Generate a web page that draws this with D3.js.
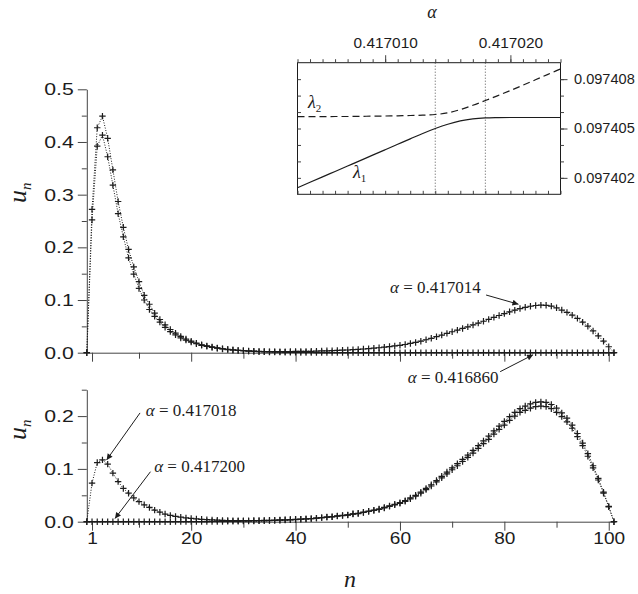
<!DOCTYPE html>
<html lang="en">
<head>
<meta charset="utf-8">
<script src="https://d3js.org/d3.v7.min.js"></script>
<style type="text/css">

body {
	margin: 0;
	background-color: #ffffff;
}

svg {
	display: block;
}

.tick text {
	font-family: "Liberation Sans", Arial, sans-serif;
}

/* Serif italic for the math labels */
.math {
	font-family: "Liberation Serif", "Times New Roman", serif;
	fill: #1c1c1c;
}

</style>
</head>

<body>
<script type="text/javascript">

// ---- data ----

// u_n for n = 0 .. 101 (array index is n)
var uA = [ // alpha = 0.416860
	0, 0.272, 0.427, 0.449, 0.407, 0.347, 0.287, 0.238, 0.196, 0.163,
	0.135, 0.109, 0.092, 0.075, 0.063, 0.053, 0.044, 0.037, 0.031, 0.026,
	0.022, 0.018, 0.015, 0.013, 0.011, 0.009, 0.0075, 0.0063, 0.0052, 0.0044,
	0.0037, 0.0030, 0.0025, 0.0020, 0.0017, 0.0014, 0.0012, 0.0010, 0.0008, 0.0007,
	0.0006, 0.0005, 0.0004, 0.0004, 0.0003, 0.0003, 0.0002, 0.0002, 0.0002, 0.0001,
	0.0001, 0.0001, 0, 0, 0, 0, 0, 0, 0, 0,
	0, 0, 0, 0, 0, 0, 0, 0, 0, 0,
	0, 0, 0, 0, 0, 0, 0, 0, 0, 0,
	0, 0, 0, 0, 0, 0, 0, 0, 0, 0,
	0, 0, 0, 0, 0, 0, 0, 0, 0, 0,
	0, 0
];

var uB = [ // alpha = 0.417014
	0, 0.252, 0.392, 0.413, 0.372, 0.318, 0.264, 0.220, 0.180, 0.149,
	0.122, 0.100, 0.082, 0.069, 0.058, 0.048, 0.040, 0.034, 0.028, 0.024,
	0.020, 0.017, 0.014, 0.012, 0.010, 0.0085, 0.0071, 0.0060, 0.0051, 0.0043,
	0.0038, 0.0033, 0.0028, 0.0024, 0.0023, 0.0021, 0.0021, 0.0021, 0.0021, 0.0022,
	0.0024, 0.0025, 0.0026, 0.0027, 0.0030, 0.0033, 0.0036, 0.0038, 0.0043, 0.0047,
	0.0051, 0.0059, 0.0062, 0.0070, 0.0078, 0.0086, 0.0094, 0.0105, 0.0117, 0.0129,
	0.0140, 0.0156, 0.0176, 0.0195, 0.0218, 0.0246, 0.0273, 0.0304, 0.0335, 0.0367,
	0.0398, 0.0429, 0.0460, 0.0491, 0.0527, 0.0562, 0.0597, 0.0632, 0.0671, 0.0706,
	0.0741, 0.0776, 0.0807, 0.0838, 0.0862, 0.0882, 0.0896, 0.0903, 0.0900, 0.0884,
	0.0852, 0.0810, 0.0766, 0.0714, 0.0651, 0.0581, 0.0503, 0.0413, 0.0320, 0.0218,
	0.0113, 0
];

var uC = [ // alpha = 0.417018
	0, 0.073, 0.112, 0.117, 0.109, 0.092, 0.076, 0.063, 0.054, 0.045,
	0.038, 0.032, 0.027, 0.022, 0.018, 0.0145, 0.012, 0.0100, 0.0085, 0.0072,
	0.0062, 0.0053, 0.0045, 0.0039, 0.0034, 0.0030, 0.0026, 0.0023, 0.0021, 0.0020,
	0.0020, 0.0021, 0.0022, 0.0023, 0.0025, 0.0027, 0.0030, 0.0033, 0.0037, 0.0041,
	0.0045, 0.0049, 0.0054, 0.0059, 0.0068, 0.0077, 0.0087, 0.0092, 0.0106, 0.0116,
	0.0125, 0.0145, 0.0154, 0.0174, 0.0193, 0.0212, 0.0232, 0.0260, 0.0290, 0.0318,
	0.0347, 0.0386, 0.0434, 0.0483, 0.0540, 0.0608, 0.0676, 0.0753, 0.0830, 0.0907,
	0.0984, 0.106, 0.114, 0.122, 0.130, 0.139, 0.148, 0.156, 0.166, 0.175,
	0.183, 0.192, 0.200, 0.207, 0.211, 0.215, 0.218, 0.219, 0.218, 0.214,
	0.207, 0.199, 0.189, 0.177, 0.161, 0.144, 0.124, 0.102, 0.079, 0.054,
	0.028, 0
];

var uD = [ // alpha = 0.417200
	0, 0, 0, 0, 0, 0, 0, 0, 0, 0,
	0, 0, 0, 0, 0, 0, 0, 0.0001, 0.0001, 0.0001,
	0.0002, 0.0002, 0.0003, 0.0003, 0.0004, 0.0005, 0.0005, 0.0006, 0.0007, 0.0008,
	0.0010, 0.0011, 0.0013, 0.0015, 0.0017, 0.0020, 0.0023, 0.0027, 0.0031, 0.0036,
	0.0041, 0.0046, 0.0051, 0.0058, 0.0068, 0.0078, 0.0088, 0.0095, 0.0110, 0.0120,
	0.013, 0.015, 0.016, 0.018, 0.020, 0.022, 0.024, 0.027, 0.030, 0.033,
	0.036, 0.040, 0.045, 0.050, 0.056, 0.063, 0.070, 0.078, 0.086, 0.094,
	0.102, 0.110, 0.118, 0.126, 0.135, 0.144, 0.153, 0.162, 0.172, 0.181,
	0.190, 0.199, 0.207, 0.214, 0.219, 0.223, 0.226, 0.227, 0.226, 0.222,
	0.215, 0.206, 0.196, 0.183, 0.167, 0.149, 0.129, 0.106, 0.082, 0.056,
	0.029, 0
];

// inset: eigenvalues against alpha
var alpha = [
	0.417003, 0.417004, 0.417005, 0.417006, 0.417007, 0.417008, 0.417009, 0.417010,
	0.417011, 0.417012, 0.417013, 0.417014, 0.417015, 0.417016, 0.417017, 0.417018,
	0.417019, 0.417020, 0.417021, 0.417022, 0.417023, 0.417024
];
var lambda1 = [
	0.09740140, 0.09740173, 0.09740206, 0.09740239, 0.09740272, 0.09740305, 0.09740338, 0.09740371,
	0.09740404, 0.09740437, 0.09740470, 0.09740500, 0.09740526, 0.09740546, 0.09740558, 0.09740564,
	0.09740566, 0.09740567, 0.09740567, 0.09740567, 0.09740567, 0.09740567
];
var lambda2 = [
	0.09740572, 0.09740572, 0.09740572, 0.09740573, 0.09740573, 0.09740574, 0.09740575, 0.09740576,
	0.09740577, 0.09740579, 0.09740581, 0.09740585, 0.09740595, 0.09740615, 0.09740641, 0.09740670,
	0.09740700, 0.09740731, 0.09740763, 0.09740796, 0.09740829, 0.09740862
];
var markAlpha = [0.417014, 0.417018];

// tick values
var xMajor = [1, 20, 40, 60, 80, 100];
var xMinor = [10, 30, 50, 70, 90];
var yTopMajor = [0, 0.1, 0.2, 0.3, 0.4, 0.5];
var yTopMinor = [0.05, 0.15, 0.25, 0.35, 0.45];
var yBotMajor = [0, 0.1, 0.2];
var yBotMinor = [0.05, 0.15, 0.25];
var alphaMajor = [0.417010, 0.417020];
var lambdaTicks = [0.097402, 0.097403, 0.097404, 0.097405, 0.097406, 0.097407, 0.097408];
var lambdaMajor = [0.097402, 0.097405, 0.097408];

// annotations: label text, label start (n, u), arrow tail and head (n, u)
var notes = [
	{ panel: "top", label: "0.417014", n: 58.1, u: 0.113, n1: 76.5, u1: 0.1095, n2: 82.7, u2: 0.092 },
	{ panel: "top", label: "0.416860", n: 61.5, u: -0.0575, n1: 79.2, u1: -0.036, n2: 85.5, u2: -0.004 },
	{ panel: "bot", label: "0.417018", n: 11.3, u: 0.200, n1: 10.2, u1: 0.206, n2: 3.8, u2: 0.117 },
	{ panel: "bot", label: "0.417200", n: 12.9, u: 0.094, n1: 12.2, u1: 0.0947, n2: 5.4, u2: 0.006 }
];

// ---- drawing ----

var width = 638;
var height = 594;
var ink = "#1c1c1c";
var axisInk = "#444";

var svg = d3.select("body")
	.append("svg")
	.attr("width", width)
	.attr("height", height);

svg.append("defs").append("marker")
	.attr("id", "head")
	.attr("viewBox", "0 0 10 10")
	.attr("refX", 10)
	.attr("refY", 5)
	.attr("markerWidth", 10)
	.attr("markerHeight", 6)
	.attr("markerUnits", "userSpaceOnUse")
	.attr("orient", "auto")
	.append("path")
	.attr("d", "M0,0L10,5L0,10z")
	.attr("fill", ink);

var x = d3.scaleLinear().domain([0, 101.2]).range([86.8, 615]);
var yTop = d3.scaleLinear().domain([0, 0.5]).range([352.7, 89.3]);
var yBot = d3.scaleLinear().domain([0, 0.25]).range([521.7, 389.7]);

// the original glyphs are a bit wider than normal, stretch text horizontally
function widen(sel, k) {
	sel.each(function() {
		var w = this.getComputedTextLength();
		d3.select(this).attr("textLength", w * k).attr("lengthAdjust", "spacingAndGlyphs");
	});
}

function addAxis(gen, pos, size, keepDomain) {
	var g = svg.append("g").attr("transform", pos).call(gen);
	g.attr("font-family", null).attr("font-size", null);
	g.selectAll("line").attr("stroke", axisInk);
	if (keepDomain) g.select(".domain").attr("stroke", axisInk);
	else g.select(".domain").remove();
	g.selectAll("text").attr("fill", ink).attr("font-size", size);
	return g;
}

function drawSeries(yScale, values) {
	var pts = values.map(function(v, i) { return { n: i, u: v }; });
	var line = d3.line()
		.x(function(d) { return x(d.n); })
		.y(function(d) { return yScale(d.u); });

	svg.append("path")
		.attr("d", line(pts))
		.attr("fill", "none")
		.attr("stroke", ink)
		.attr("stroke-width", 1)
		.attr("stroke-dasharray", "1,1.6");

	svg.append("g").selectAll("path")
		.data(pts)
		.enter()
		.append("path")
		.attr("transform", function(d) { return "translate(" + x(d.n) + "," + yScale(d.u) + ")"; })
		.attr("d", "M-3.2,0H3.2M0,-3.2V3.2")
		.attr("stroke", ink)
		.attr("stroke-width", 1.2);
}

// top panel
addAxis(d3.axisLeft(yTop).tickValues(yTopMinor).tickSize(5).tickFormat(""), "translate(" + x(0) + ",0)", 17, false);
var gl = addAxis(d3.axisLeft(yTop).tickValues(yTopMajor).tickSize(9).tickSizeOuter(0).tickPadding(4)
	.tickFormat(d3.format(".1f")), "translate(" + x(0) + ",0)", 17, true);
widen(gl.selectAll("text"), 1.25);
addAxis(d3.axisBottom(x).tickValues(xMinor).tickSize(6).tickFormat(""), "translate(0," + yTop(0) + ")", 17, false);
addAxis(d3.axisBottom(x).tickValues(xMajor).tickSize(9).tickSizeOuter(0).tickFormat(""), "translate(0," + yTop(0) + ")", 17, true);

drawSeries(yTop, uA);
drawSeries(yTop, uB);

// bottom panel
addAxis(d3.axisLeft(yBot).tickValues(yBotMinor).tickSize(5).tickFormat(""), "translate(" + x(0) + ",0)", 17, false);
var gl2 = addAxis(d3.axisLeft(yBot).tickValues(yBotMajor).tickSize(9).tickSizeOuter(0).tickPadding(4)
	.tickFormat(d3.format(".1f")), "translate(" + x(0) + ",0)", 17, true);
widen(gl2.selectAll("text"), 1.25);
addAxis(d3.axisBottom(x).tickValues(xMinor).tickSize(6).tickFormat(""), "translate(0," + yBot(0) + ")", 17, false);
var gb = addAxis(d3.axisBottom(x).tickValues(xMajor).tickSize(9).tickSizeOuter(0).tickPadding(1),
	"translate(0," + yBot(0) + ")", 17, true);
widen(gb.selectAll("text"), 1.12);

drawSeries(yBot, uD);
drawSeries(yBot, uC);

// axis titles
[{ y: 203 }, { y: 440 }].forEach(function(p) {
	var t = svg.append("text")
		.attr("class", "math")
		.attr("transform", "translate(26," + p.y + ") rotate(-90)")
		.attr("font-size", 26)
		.attr("font-style", "italic");
	t.append("tspan").text("u");
	t.append("tspan").attr("font-size", 15).attr("dy", 5).text("n");
});

svg.append("text")
	.attr("class", "math")
	.attr("x", 350)
	.attr("y", 587)
	.attr("text-anchor", "middle")
	.attr("font-size", 24)
	.attr("font-style", "italic")
	.text("n");

// alpha annotations with arrows
notes.forEach(function(d) {
	var yS = d.panel === "top" ? yTop : yBot;
	var t = svg.append("text")
		.attr("class", "math")
		.attr("x", x(d.n))
		.attr("y", yS(d.u))
		.attr("font-size", 17);
	t.append("tspan").attr("font-style", "italic").text("\u03b1");
	t.append("tspan").text(" = " + d.label);

	svg.append("line")
		.attr("x1", x(d.n1))
		.attr("y1", yS(d.u1))
		.attr("x2", x(d.n2))
		.attr("y2", yS(d.u2))
		.attr("stroke", ink)
		.attr("stroke-width", 1)
		.attr("marker-end", "url(#head)");
});

// ---- inset ----
var ix = d3.scaleLinear().domain([0.417003, 0.417024]).range([297.5, 560.5]);
var iy = d3.scaleLinear().domain([0.097401, 0.097409]).range([194.3, 62.7]);

svg.append("rect")
	.attr("x", ix(0.417003))
	.attr("y", iy(0.097409))
	.attr("width", ix(0.417024) - ix(0.417003))
	.attr("height", iy(0.097401) - iy(0.097409))
	.attr("fill", "#fff");

svg.append("g").selectAll("line")
	.data(markAlpha)
	.enter()
	.append("line")
	.attr("x1", function(d) { return ix(d); })
	.attr("x2", function(d) { return ix(d); })
	.attr("y1", iy(0.097409))
	.attr("y2", iy(0.097401))
	.attr("stroke", "#555")
	.attr("stroke-width", 1)
	.attr("stroke-dasharray", "1,2");

var lam1 = d3.line()
	.x(function(d, i) { return ix(alpha[i]); })
	.y(function(d) { return iy(d); })
	.curve(d3.curveMonotoneX);

svg.append("path")
	.attr("d", lam1(lambda1))
	.attr("fill", "none")
	.attr("stroke", ink)
	.attr("stroke-width", 1.2);

svg.append("path")
	.attr("d", lam1(lambda2))
	.attr("fill", "none")
	.attr("stroke", ink)
	.attr("stroke-width", 1.2)
	.attr("stroke-dasharray", "7,4");

svg.append("rect")
	.attr("x", ix(0.417003))
	.attr("y", iy(0.097409))
	.attr("width", ix(0.417024) - ix(0.417003))
	.attr("height", iy(0.097401) - iy(0.097409))
	.attr("fill", "none")
	.attr("stroke", ink)
	.attr("stroke-width", 1);

addAxis(d3.axisTop(ix).tickValues(alpha).tickSize(3.5).tickFormat(""), "translate(0," + iy(0.097409) + ")", 14, false);
var gt = addAxis(d3.axisTop(ix).tickValues(alphaMajor).tickSize(7.5).tickPadding(7)
	.tickFormat(d3.format(".6f")), "translate(0," + iy(0.097409) + ")", 14, false);
widen(gt.selectAll("text"), 1.1);
addAxis(d3.axisBottom(ix).tickValues(alpha).tickSize(-3.5).tickFormat(""), "translate(0," + iy(0.097401) + ")", 14, false);
addAxis(d3.axisLeft(iy).tickValues(lambdaTicks).tickSize(-3.5).tickFormat(""), "translate(" + ix(0.417003) + ",0)", 14, false);
addAxis(d3.axisRight(iy).tickValues(lambdaTicks).tickSize(3.5).tickFormat(""), "translate(" + ix(0.417024) + ",0)", 14, false);
var gr = addAxis(d3.axisRight(iy).tickValues(lambdaMajor).tickSize(7).tickPadding(6.5)
	.tickFormat(d3.format(".6f")), "translate(" + ix(0.417024) + ",0)", 14, false);
widen(gr.selectAll("text"), 1.04);

svg.append("text")
	.attr("class", "math")
	.attr("x", 432)
	.attr("y", 18)
	.attr("text-anchor", "middle")
	.attr("font-size", 18)
	.attr("font-style", "italic")
	.text("\u03b1");

[{ x: 308, y: 108, s: "2" }, { x: 353, y: 178, s: "1" }].forEach(function(p) {
	var t = svg.append("text")
		.attr("class", "math")
		.attr("x", p.x)
		.attr("y", p.y)
		.attr("font-size", 18);
	t.append("tspan").attr("font-style", "italic").text("\u03bb");
	t.append("tspan").attr("font-size", 11).attr("dy", 4).text(p.s);
});

</script>
</body>
</html>
